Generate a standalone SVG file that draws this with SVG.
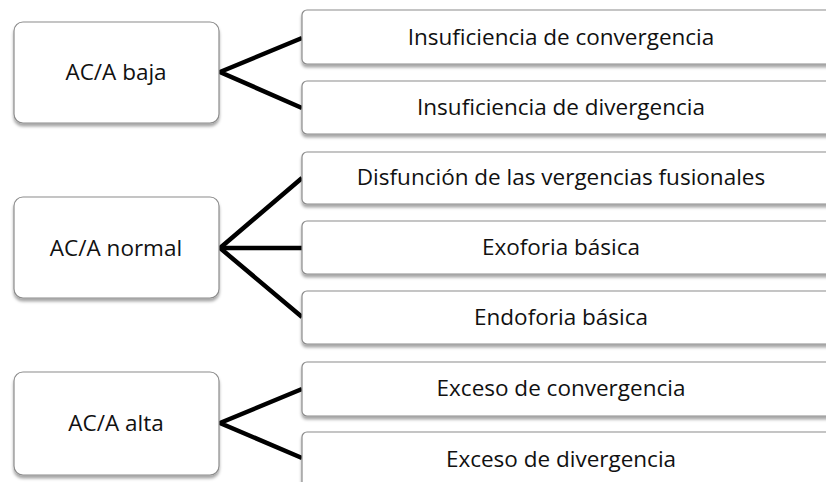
<svg xmlns="http://www.w3.org/2000/svg" width="826" height="482" viewBox="0 0 826 482">
<style>
.box{fill:#fff;stroke:#8c8c8c;stroke-width:1.2;filter:url(#sh)}
.t{font-family:"Open Sans","Liberation Sans",sans-serif;font-size:22.5px;fill:#111;text-anchor:middle}
.c{stroke:#000;stroke-width:4.5;fill:none;stroke-linecap:butt;stroke-linejoin:miter}
</style>
<defs>
<filter id="sh" x="-10%" y="-20%" width="120%" height="150%">
<feDropShadow dx="0" dy="3" stdDeviation="1.6" flood-color="#000" flood-opacity="0.35"/>
</filter>
</defs>
<rect width="826" height="482" fill="#fff"/>
<g id="connectors">
<polyline class="c" points="302,38 220,72 302,108"/>
<polyline class="c" points="302,178 220,248 302,317"/>
<line class="c" x1="220" y1="248" x2="302" y2="248"/>
<polyline class="c" points="302,389 220,423 302,458"/>
</g>
<g id="n1"><rect class="box" x="14" y="22" width="205" height="101" rx="9"/><text class="t" x="116" y="80">AC/A baja</text></g>
<g id="n2"><rect class="box" x="14" y="197" width="205" height="101" rx="9"/><text class="t" x="116" y="256">AC/A normal</text></g>
<g id="n3"><rect class="box" x="14" y="372" width="205" height="103" rx="9"/><text class="t" x="116" y="431">AC/A alta</text></g>
<g id="r1"><rect class="box" x="302" y="10" width="540" height="54" rx="5"/><text class="t" x="561" y="45">Insuficiencia de convergencia</text></g>
<g id="r2"><rect class="box" x="302" y="81" width="540" height="53" rx="5"/><text class="t" x="561" y="115">Insuficiencia de divergencia</text></g>
<g id="r3"><rect class="box" x="302" y="152" width="540" height="52" rx="5"/><text class="t" x="561" y="185">Disfunción de las vergencias fusionales</text></g>
<g id="r4"><rect class="box" x="302" y="221" width="540" height="53" rx="5"/><text class="t" x="561" y="255">Exoforia básica</text></g>
<g id="r5"><rect class="box" x="302" y="291" width="540" height="53" rx="5"/><text class="t" x="561" y="325">Endoforia básica</text></g>
<g id="r6"><rect class="box" x="302" y="362" width="540" height="54" rx="5"/><text class="t" x="561" y="396">Exceso de convergencia</text></g>
<g id="r7"><rect class="box" x="302" y="432" width="540" height="60" rx="5"/><text class="t" x="561" y="467">Exceso de divergencia</text></g>
</svg>
